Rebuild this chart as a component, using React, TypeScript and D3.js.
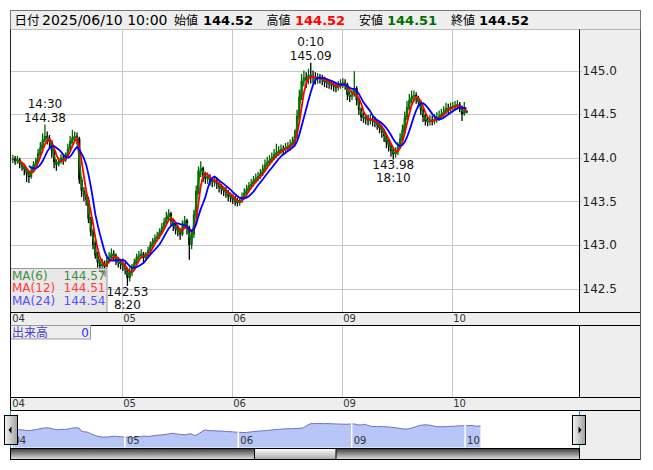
import * as d3 from 'd3';

// 30分足 (日ごとに 7:00 始まり)
const dayLabels = ['04', '05', '06', '09', '10'];

const closes04 = [143.99, 143.96, 143.98, 143.93, 143.90, 143.87, 143.82, 143.78, 143.85, 143.92, 143.95, 144.05, 144.12, 144.20, 144.25, 144.22, 144.18, 144.08, 143.95, 143.92, 143.96, 144.00, 143.97, 144.02, 144.10, 144.19, 144.23, 144.25, 144.22, 143.75, 143.62, 143.58, 143.52, 143.30, 143.15, 143.00, 142.88, 142.80, 142.76, 142.78, 142.75, 142.82, 142.86, 142.90, 142.88, 142.82, 142.80, 142.78];
const highs04 = [144.03, 144.02, 144.02, 144.00, 143.95, 143.93, 143.88, 143.84, 143.90, 143.96, 144.00, 144.10, 144.18, 144.28, 144.38, 144.30, 144.26, 144.20, 144.10, 143.98, 144.00, 144.04, 144.03, 144.06, 144.16, 144.25, 144.32, 144.30, 144.29, 144.24, 143.78, 143.66, 143.62, 143.55, 143.32, 143.18, 143.04, 142.92, 142.84, 142.84, 142.82, 142.88, 142.92, 142.96, 142.94, 142.90, 142.86, 142.84];
const lows04 = [143.94, 143.92, 143.93, 143.88, 143.85, 143.80, 143.72, 143.71, 143.76, 143.83, 143.90, 143.93, 144.02, 144.10, 144.18, 144.15, 144.10, 144.00, 143.88, 143.85, 143.90, 143.93, 143.92, 143.95, 144.00, 144.08, 144.16, 144.19, 144.15, 143.70, 143.55, 143.50, 143.45, 143.25, 143.10, 142.95, 142.84, 142.74, 142.70, 142.72, 142.70, 142.74, 142.80, 142.84, 142.82, 142.77, 142.74, 142.72];

const closes05 = [142.76, 142.72, 142.62, 142.68, 142.74, 142.80, 142.86, 142.88, 142.90, 142.85, 142.88, 142.94, 143.00, 143.04, 143.08, 143.10, 143.15, 143.20, 143.26, 143.32, 143.36, 143.28, 143.22, 143.18, 143.16, 143.12, 143.22, 143.28, 143.20, 143.00, 143.12, 143.35, 143.62, 143.85, 143.88, 143.80, 143.76, 143.78, 143.74, 143.72, 143.74, 143.70, 143.66, 143.64, 143.62, 143.60, 143.56, 143.55];
const highs05 = [142.84, 142.80, 142.74, 142.74, 142.78, 142.84, 142.90, 142.93, 142.95, 142.92, 142.92, 142.98, 143.04, 143.08, 143.12, 143.15, 143.19, 143.25, 143.31, 143.38, 143.41, 143.38, 143.30, 143.25, 143.22, 143.19, 143.28, 143.33, 143.30, 143.22, 143.18, 143.40, 143.68, 143.90, 143.96, 143.90, 143.84, 143.83, 143.81, 143.78, 143.79, 143.77, 143.72, 143.70, 143.67, 143.66, 143.63, 143.60];
const lows05 = [142.70, 142.66, 142.53, 142.58, 142.64, 142.70, 142.76, 142.82, 142.84, 142.80, 142.82, 142.86, 142.92, 142.97, 143.01, 143.04, 143.07, 143.12, 143.18, 143.24, 143.28, 143.22, 143.16, 143.12, 143.10, 143.06, 143.10, 143.18, 143.12, 142.83, 142.95, 143.08, 143.30, 143.58, 143.78, 143.72, 143.70, 143.70, 143.68, 143.66, 143.67, 143.64, 143.60, 143.58, 143.56, 143.54, 143.50, 143.49];

const closes06 = [143.52, 143.50, 143.48, 143.50, 143.55, 143.60, 143.64, 143.68, 143.70, 143.74, 143.77, 143.79, 143.82, 143.86, 143.92, 143.95, 143.97, 144.00, 144.04, 144.06, 144.08, 144.10, 144.09, 144.12, 144.13, 144.15, 144.18, 144.25, 144.48, 144.70, 144.88, 144.92, 144.90, 144.95, 144.93, 144.92, 144.90, 144.92, 144.91, 144.89, 144.87, 144.86, 144.85, 144.84, 144.82, 144.80, 144.83, 144.85];
const highs06 = [143.58, 143.56, 143.54, 143.55, 143.60, 143.65, 143.69, 143.72, 143.76, 143.79, 143.82, 143.84, 143.87, 143.92, 143.98, 144.01, 144.03, 144.06, 144.10, 144.16, 144.13, 144.15, 144.14, 144.17, 144.18, 144.21, 144.24, 144.32, 144.55, 144.78, 144.96, 145.00, 144.98, 145.02, 145.09, 145.00, 144.98, 144.97, 144.96, 144.95, 144.93, 144.91, 144.90, 144.89, 144.88, 144.86, 144.88, 144.90];
const lows06 = [143.47, 143.45, 143.44, 143.45, 143.48, 143.53, 143.57, 143.61, 143.64, 143.67, 143.71, 143.73, 143.76, 143.79, 143.84, 143.89, 143.91, 143.94, 143.97, 144.00, 144.02, 144.04, 144.03, 144.05, 144.07, 144.08, 144.11, 144.14, 144.22, 144.44, 144.66, 144.82, 144.80, 144.84, 144.85, 144.85, 144.84, 144.85, 144.85, 144.83, 144.81, 144.80, 144.79, 144.78, 144.76, 144.75, 144.77, 144.79];

const closes09 = [144.86, 144.84, 144.72, 144.70, 144.72, 144.80, 144.66, 144.55, 144.47, 144.46, 144.44, 144.43, 144.44, 144.42, 144.41, 144.38, 144.34, 144.30, 144.25, 144.18, 144.14, 144.08, 144.04, 144.06, 144.12, 144.22, 144.32, 144.46, 144.58, 144.66, 144.70, 144.72, 144.68, 144.64, 144.55, 144.47, 144.42, 144.41, 144.43, 144.42, 144.44, 144.46, 144.48, 144.50, 144.53, 144.57, 144.56, 144.58];
const highs09 = [144.91, 144.90, 144.86, 144.76, 144.78, 144.99, 144.82, 144.68, 144.57, 144.52, 144.50, 144.49, 144.50, 144.48, 144.47, 144.44, 144.41, 144.37, 144.33, 144.27, 144.21, 144.16, 144.11, 144.12, 144.18, 144.28, 144.38, 144.53, 144.65, 144.73, 144.77, 144.77, 144.75, 144.71, 144.66, 144.57, 144.50, 144.47, 144.49, 144.48, 144.50, 144.52, 144.54, 144.56, 144.59, 144.63, 144.62, 144.63];
const lows09 = [144.80, 144.78, 144.66, 144.64, 144.66, 144.70, 144.60, 144.49, 144.42, 144.40, 144.38, 144.37, 144.38, 144.36, 144.35, 144.32, 144.28, 144.23, 144.18, 144.11, 144.07, 144.01, 143.98, 144.00, 144.03, 144.10, 144.19, 144.29, 144.43, 144.55, 144.62, 144.64, 144.62, 144.58, 144.49, 144.41, 144.37, 144.36, 144.37, 144.37, 144.38, 144.40, 144.42, 144.44, 144.47, 144.50, 144.50, 144.52];

const closes10 = [144.59, 144.60, 144.61, 144.58, 144.50, 144.54, 144.52];
const highs10 = [144.64, 144.65, 144.66, 144.64, 144.60, 144.64, 144.54];
const lows10 = [144.53, 144.54, 144.55, 144.52, 144.42, 144.48, 144.51];

const priceTicks = [142.5, 143.0, 143.5, 144.0, 144.5, 145.0];

// MA(6/12/24) は10分足の本数。30分足では 2/4/8 本に相当
const maNames = ['MA(6)', 'MA(12)', 'MA(24)'];
const maWindows = [2, 4, 8];
const maLast = ['144.57', '144.51', '144.54'];
const maLine = ['#008000', '#ff0000', '#0000ff'];
const maText = ['#3f8f3f', '#ff3b3b', '#5a4cff'];

const headerLabels = ['始値', '高値', '安値', '終値'];
const headerValues = ['144.52', '144.52', '144.51', '144.52'];
const headerColors = ['#000', '#ff0000', '#007000', '#000'];

const marks = [
  { idx: 14, time: '14:30', price: '144.38', top: true },
  { idx: 130, time: '0:10', price: '145.09', top: true },
  { idx: 166, time: '18:10', price: '143.98', top: false },
  { idx: 50, time: '8:20', price: '142.53', top: false },
];

const closes = [...closes04, ...closes05, ...closes06, ...closes09, ...closes10];
const highs = [...highs04, ...highs05, ...highs06, ...highs09, ...highs10];
const lows = [...lows04, ...lows05, ...lows06, ...lows09, ...lows10];

const FONT = "'DejaVu Sans', 'Noto Sans CJK JP', sans-serif";
const JP = "'Noto Sans CJK JP', sans-serif";

export default function App() {
  const L = 10.5, PR = 579.5, AR = 640.5;
  const PT = 29.5, PB = 312.5, B1 = 325.5, VB = 397.5, B2 = 410.5, NB = 448.5, SB = 459.5;
  const perDay = 48;

  const x = d3.scaleLinear().domain([0, 1]).range([11.7, 121.7]);
  const xi = (i: number) => x((i + 0.5) / perDay);
  const y = d3.scaleLinear().domain([142.5, 145.0]).range([288.5, 70.5]);

  const candles = closes.map((c, i) => {
    const o = i === 0 ? c : closes[i - 1];
    return { i, o, c, h: Math.max(highs[i], o, c), l: Math.min(lows[i], o, c) };
  });

  const mas = maWindows.map((n) =>
    closes.map((_, i) => (i < n - 1 ? null : d3.mean(closes.slice(i - n + 1, i + 1)) as number))
  );
  const maPath = d3.line<number | null>()
    .defined((d) => d !== null)
    .x((_, i) => xi(i))
    .y((d) => y(d as number));

  // ナビゲーター
  const xn = d3.scaleLinear().domain([0, 1]).range([11.5, 124.9]);
  const yn = d3.scaleLinear().domain([d3.min(lows) as number, d3.max(highs) as number]).range([438.5, 422.5]);
  const navArea = d3.area<number>().x((_, i) => xn((i + 0.5) / perDay)).y0(447.5).y1((d) => yn(d));
  const navLine = d3.line<number>().x((_, i) => xn((i + 0.5) / perDay)).y((d) => yn(d));

  const days = d3.range(dayLabels.length);
  const headerLabelX = [174, 266.5, 359, 451];
  const headerValueX = [203, 295, 387, 479];

  return (
    <svg width={653} height={470} style={{ position: 'absolute', left: 0, top: 0, display: 'block' }}>
      <defs>
        <linearGradient id="track" x1="0" y1="0" x2="0" y2="1">
          <stop offset="0" stopColor="#3c3c3c" />
          <stop offset="1" stopColor="#e4e4e4" />
        </linearGradient>
        <linearGradient id="thumb" x1="0" y1="0" x2="0" y2="1">
          <stop offset="0" stopColor="#ffffff" />
          <stop offset="1" stopColor="#a8a8a8" />
        </linearGradient>
        <linearGradient id="handle" x1="0" y1="0" x2="1" y2="0">
          <stop offset="0" stopColor="#f4f4f4" />
          <stop offset="1" stopColor="#a0a0a0" />
        </linearGradient>
      </defs>

      {/* header */}
      <rect x={L} y={10.5} width={AR - L} height={19} fill="#eeeeee" stroke="#777" />
      <text x={14.5} y={24.5} fontFamily={JP} fontSize={12.5} fill="#000">日付</text>
      <text x={42} y={24.5} fontFamily={FONT} fontSize={14} fill="#000">2025/06/10 10:00</text>
      {headerLabels.map((t, k) => (
        <g key={t}>
          <text x={headerLabelX[k]} y={24.5} fontFamily={JP} fontSize={12} fill="#000">{t}</text>
          <text x={headerValueX[k]} y={24.5} fontFamily={FONT} fontSize={13} fontWeight="bold" fill={headerColors[k]}>{headerValues[k]}</text>
        </g>
      ))}

      {/* panels */}
      <rect x={L} y={PT} width={PR - L} height={PB - PT} fill="#fff" />
      <rect x={L} y={B1} width={PR - L} height={VB - B1} fill="#fff" />
      <rect x={L} y={B2} width={PR - L} height={NB - B2} fill="#fff" />
      <rect x={PR} y={PT} width={AR - PR} height={SB - PT} fill="#eeeeee" />

      {/* grid */}
      {priceTicks.map((p) => (
        <g key={p}>
          <line x1={L} x2={582} y1={Math.round(y(p)) + 0.5} y2={Math.round(y(p)) + 0.5} stroke="#c8c8c8" />
          <text x={582.5} y={y(p)} dy="0.35em" fontFamily={FONT} fontSize={12} fill="#222">{p.toFixed(1)}</text>
        </g>
      ))}
      {days.slice(1).map((d) => {
        const gx = Math.round(x(d)) + 0.5;
        return (
          <g key={d}>
            <line x1={gx} x2={gx} y1={PT} y2={PB} stroke="#c8c8c8" />
            <line x1={gx} x2={gx} y1={B1} y2={VB} stroke="#c8c8c8" />
          </g>
        );
      })}

      {/* candles */}
      {candles.map((d) => {
        const col = d.c >= d.o ? '#006400' : '#000';
        const top = y(Math.max(d.o, d.c));
        const bh = Math.max(1.2, y(Math.min(d.o, d.c)) - top);
        return (
          <g key={d.i}>
            <line x1={xi(d.i)} x2={xi(d.i)} y1={y(d.h)} y2={y(d.l)} stroke={col} strokeWidth={1.3} />
            <rect x={xi(d.i) - 1.1} y={top} width={2.2} height={bh} fill={col} />
          </g>
        );
      })}

      {/* moving averages */}
      {mas.map((m, k) => (
        <path key={k} d={maPath(m) || ''} fill="none" stroke={maLine[k]} strokeWidth={1.8} />
      ))}

      {/* high / low marks */}
      {marks.map((m) => {
        const px = xi(m.idx);
        const py = y(parseFloat(m.price));
        const lines = m.top ? [m.time, m.price] : [m.price, m.time];
        const base = m.top ? [py - 17, py - 3] : [py + 10, py + 23];
        return lines.map((t, k) => (
          <text key={m.idx + '-' + k} x={px} y={base[k]} textAnchor="middle" fontFamily={FONT} fontSize={12} fill="#111">{t}</text>
        ));
      })}

      {/* MA legend */}
      <rect x={L} y={268.5} width={96.5} height={44} fill="#e4e4e4" fillOpacity={0.85} stroke="#999" />
      <polygon points="98.5,270 106,270 106,277.5" fill="#a0a0a0" />
      {maNames.map((n, k) => (
        <g key={n}>
          <text x={12} y={279.5 + k * 12.8} fontFamily={FONT} fontSize={12} fill={maText[k]}>{n}</text>
          <text x={105.5} y={279.5 + k * 12.8} textAnchor="end" fontFamily={FONT} fontSize={12} fill={maText[k]}>{maLast[k]}</text>
        </g>
      ))}

      {/* date bands */}
      {[PB, VB].map((by) => (
        <g key={by}>
          <rect x={L} y={by} width={AR - L} height={13} fill="#eeeeee" stroke="#000" />
          {dayLabels.map((t, d) => (
            <text key={t} x={x(d) + (d === 0 ? 0.5 : 1.5)} y={by + 9.5} fontFamily={FONT} fontSize={10} fill="#333">{t}</text>
          ))}
        </g>
      ))}

      {/* volume legend */}
      <rect x={L} y={B1} width={80} height={13.5} fill="#eeeeee" stroke="#999" />
      <text x={12} y={336.5} fontFamily={JP} fontSize={12} fill="#4a3fc9">出来高</text>
      <text x={89} y={336.5} textAnchor="end" fontFamily={FONT} fontSize={12} fill="#3030ff">0</text>

      {/* navigator */}
      <path d={navArea(closes) || ''} fill="#b8c6f6" />
      <path d={navLine(closes) || ''} fill="none" stroke="#6b6fc4" strokeWidth={1} />
      {days.slice(1).map((d) => (
        <line key={d} x1={xn(d)} x2={xn(d)} y1={416} y2={447.5} stroke="#fff" strokeWidth={1.5} />
      ))}
      {dayLabels.map((t, d) => (
        <text key={t} x={xn(d) + 2} y={443.5} fontFamily={FONT} fontSize={10} fill="#333">{t}</text>
      ))}
      <line x1={L} x2={L} y1={B2} y2={NB} stroke="#1aa0d8" />
      <line x1={PR} x2={PR} y1={B2} y2={NB} stroke="#1aa0d8" />

      {/* scrollbar */}
      <rect x={L} y={NB} width={PR - L} height={SB - NB} fill="url(#track)" stroke="#000" />
      <rect x={254.5} y={NB} width={81.5} height={SB - NB} fill="url(#thumb)" stroke="#000" />

      {/* handles */}
      <rect x={4.5} y={415.5} width={13} height={29} fill="url(#handle)" stroke="#000" />
      <polygon points="8.5,430 11.5,426.5 11.5,433.5" fill="#000" />
      <rect x={572.5} y={415.5} width={13} height={29} fill="url(#handle)" stroke="#000" />
      <polygon points="581.5,430 578.5,426.5 578.5,433.5" fill="#000" />

      {/* frame */}
      <line x1={L} x2={L} y1={PT} y2={PB} stroke="#222" />
      <line x1={L} x2={L} y1={B1} y2={VB} stroke="#000" />
      <line x1={PR} x2={PR} y1={PT} y2={PB} stroke="#000" />
      <line x1={PR} x2={PR} y1={B1} y2={VB} stroke="#000" />
      <line x1={AR} x2={AR} y1={PT} y2={SB} stroke="#555" />
      <line x1={PR} x2={AR} y1={SB} y2={SB} stroke="#000" />
    </svg>
  );
}
